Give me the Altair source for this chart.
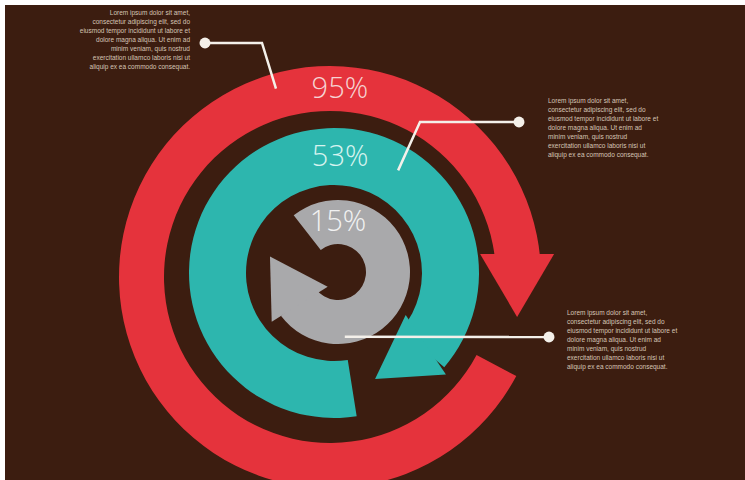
import altair as alt
import pandas as pd
import numpy as np

# ---------------- data ----------------
ring_names = ["outer", "middle", "inner"]
pct_labels = ["95%", "53%", "15%"]
pct_values = [95, 53, 15]
arc_start_deg = [118, 171, -38]     # where each ring's tail is cut (clockwise from 12 o'clock)
arc_end_deg = [443, 488, 230]       # where each ring's arrowhead begins
ring_colors = ["#e5333c", "#2db6ae", "#a9a9ab"]
label_colors = ["#f6d3d3", "#d6f3ef", "#f2f2f2"]

lorem_lines = [
    "Lorem ipsum dolor sit amet,",
    "consectetur adipiscing elit, sed do",
    "eiusmod tempor incididunt ut labore et",
    "dolore magna aliqua. Ut enim ad",
    "minim veniam, quis nostrud",
    "exercitation ullamco laboris nisi ut",
    "aliquip ex ea commodo consequat.",
]

# ---------------- layout (pixels in the picture) ----------------
OFF = 5                          # white margin at top/left
W, H = 740, 475
center_x = [330, 334, 338]
center_y = [277, 273, 272]
radius_in = [166, 88, 28]
radius_out = [211, 145, 72]
head_width = [74, 72, 66]
head_tilt = [7, 18, 8]
label_angle = [3, 3, 0]
OVERLAP = 2.5                    # degrees of arc hidden under each arrowhead

callout_ring = [0, 1, 2]
callout_angle = [344, 32, 174]
callout_radius = [196, 121, 65]
callout_elbow = [(262, 43), (420, 122), None]
callout_dot = [(205, 43), (519, 122), (549, 337)]
text_anchor = [(190, 13, "right"), (548, 101, "left"), (567, 313, "left")]
line_gap = 9

BG = "#3c1d10"


def polar(i, deg, r):
    a = np.deg2rad(deg)
    return center_x[i] + r * np.sin(a) - OFF, center_y[i] - r * np.cos(a) - OFF


# ring arcs
arcs = pd.DataFrame({
    "ring": ring_names,
    "cx": [x - OFF for x in center_x],
    "cy": [y - OFF for y in center_y],
    "t0": np.deg2rad(arc_start_deg),
    "t1": np.deg2rad(np.array(arc_end_deg) + OVERLAP),
    "ri": radius_in,
    "ro": radius_out,
    "col": ring_colors,
})

# arrowheads placed at the end of each arc, pointing along the clockwise tangent
HEAD_RATIO = 0.85
heads = []
for i in range(3):
    th = arc_end_deg[i]
    rm = (radius_in[i] + radius_out[i]) / 2
    bx, by = polar(i, th, rm)
    a = np.deg2rad(th + head_tilt[i])
    L = HEAD_RATIO * head_width[i]
    heads.append({
        "x": bx + L / 2 * np.cos(a),
        "y": by + L / 2 * np.sin(a),
        "size": head_width[i] ** 2,
        "ang": (th + head_tilt[i] - 90) % 360,
        "col": ring_colors[i],
    })
heads = pd.DataFrame(heads)

# percentage labels on each ring
labels = []
for i in range(3):
    rm = (radius_in[i] + radius_out[i]) / 2
    x, y = polar(i, label_angle[i], rm)
    labels.append({"x": x, "y": y, "text": pct_labels[i], "col": label_colors[i]})
labels = pd.DataFrame(labels)

# callout leader lines
lines, dots = [], []
for k in range(3):
    sx, sy = polar(callout_ring[k], callout_angle[k], callout_radius[k])
    pts = [(sx, sy)]
    if callout_elbow[k] is not None:
        pts.append((callout_elbow[k][0] - OFF, callout_elbow[k][1] - OFF))
    pts.append((callout_dot[k][0] - OFF, callout_dot[k][1] - OFF))
    for j, (px, py) in enumerate(pts):
        lines.append({"id": k, "ord": j, "x": px, "y": py})
    dots.append({"x": callout_dot[k][0] - OFF, "y": callout_dot[k][1] - OFF})
lines = pd.DataFrame(lines)
dots = pd.DataFrame(dots)

texts_l, texts_r = [], []
for k, (tx, ty, al) in enumerate(text_anchor):
    for j, t in enumerate(lorem_lines):
        row = {"x": tx - OFF, "y": ty - OFF + j * line_gap, "text": t}
        (texts_r if al == "right" else texts_l).append(row)
texts_l = pd.DataFrame(texts_l)
texts_r = pd.DataFrame(texts_r)

X = lambda f: alt.X(f, scale=None, axis=None)
Y = lambda f: alt.Y(f, scale=None, axis=None)

arc_layer = alt.Chart(arcs).mark_arc(strokeWidth=0).encode(
    x=X("cx:Q"), y=Y("cy:Q"),
    theta=alt.Theta("t0:Q", scale=None, stack=False),
    theta2="t1:Q",
    radius=alt.Radius("ro:Q", scale=None),
    radius2="ri:Q",
    color=alt.Color("col:N", scale=None),
)

head_layer = alt.Chart(heads).mark_point(
    filled=True, opacity=1, strokeWidth=0,
    shape="M -1 -0.85 L 1 -0.85 L 0 0.85 Z",
).encode(
    x=X("x:Q"), y=Y("y:Q"),
    size=alt.Size("size:Q", scale=None),
    angle=alt.Angle("ang:Q", scale=None),
    color=alt.Color("col:N", scale=None),
)

label_layer = alt.Chart(labels).mark_text(
    font="Open Sans", fontSize=29, fontWeight=300, baseline="middle", align="center"
).encode(
    x=X("x:Q"), y=Y("y:Q"), text="text:N",
    color=alt.Color("col:N", scale=None),
)

line_layer = alt.Chart(lines).mark_line(color="#f4f0ea", strokeWidth=2.5).encode(
    x=X("x:Q"), y=Y("y:Q"), detail="id:N", order="ord:Q",
)

dot_layer = alt.Chart(dots).mark_circle(color="#f4f0ea", opacity=1, size=120).encode(
    x=X("x:Q"), y=Y("y:Q"),
)

txt_style = dict(font="Liberation Sans", fontSize=6.5, color="#d6c5b6", baseline="middle")
text_r_layer = alt.Chart(texts_r).mark_text(align="right", **txt_style).encode(
    x=X("x:Q"), y=Y("y:Q"), text="text:N")
text_l_layer = alt.Chart(texts_l).mark_text(align="left", **txt_style).encode(
    x=X("x:Q"), y=Y("y:Q"), text="text:N")

chart = alt.layer(
    arc_layer, head_layer, label_layer, line_layer, dot_layer, text_r_layer, text_l_layer
).properties(
    width=W, height=H,
    autosize=alt.AutoSizeParams(type="none"),
    padding={"left": OFF, "top": OFF, "right": 0, "bottom": 0},
    background="white",
).configure_view(stroke=None, fill=BG)

chart.save("out.html", embed_options={"renderer": "svg", "actions": False})
